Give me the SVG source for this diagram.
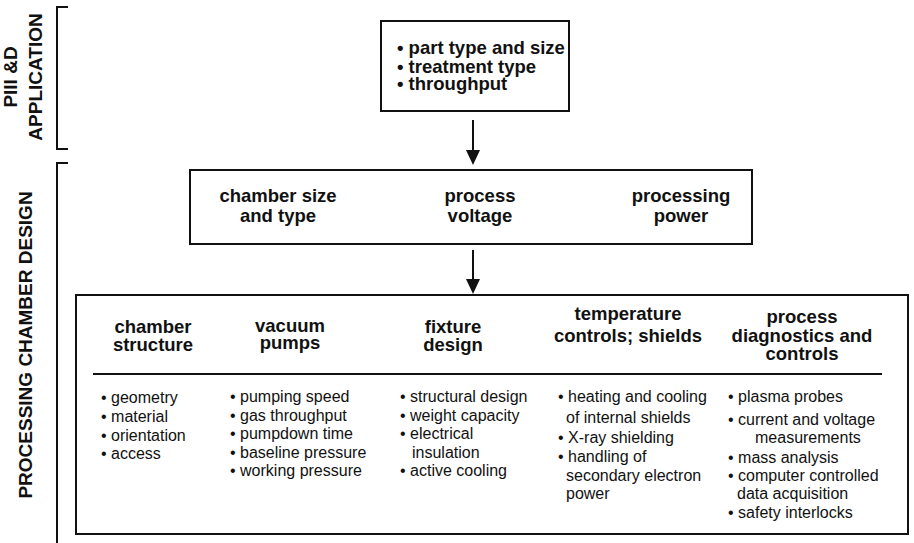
<svg xmlns="http://www.w3.org/2000/svg" width="914" height="543" viewBox="0 0 914 543">
<defs>
<style>
.box{fill:#fff;stroke:#111;stroke-width:2}
.ln{stroke:#111;stroke-width:2;fill:none}
.h{font-family:"Liberation Sans",Arial,sans-serif;font-weight:bold;font-size:18.5px;fill:#111;text-anchor:middle}
.hb{font-family:"Liberation Sans",Arial,sans-serif;font-weight:bold;font-size:18.5px;fill:#111}
.b{font-family:"Liberation Sans",Arial,sans-serif;font-size:16px;fill:#111}
.side{font-family:"Liberation Sans",Arial,sans-serif;font-weight:bold;font-size:19px;fill:#111;text-anchor:middle}
</style>
</defs>
<rect width="914" height="543" fill="#fff"/>

<g id="side-labels">
<path class="ln" d="M68,7 H57 V149 H68"/>
<path class="ln" d="M68,163 H57 V543"/>
<text class="side" transform="translate(17,77) rotate(-90)">PIII &amp;D</text>
<text class="side" transform="translate(42,77) rotate(-90)">APPLICATION</text>
<text class="side" transform="translate(32,345) rotate(-90)">PROCESSING CHAMBER DESIGN</text>
</g>

<g id="connectors">
<line class="ln" x1="473" y1="120" x2="473" y2="150"/>
<path d="M466,150 L480,150 L473,165 Z" fill="#111"/>
<line class="ln" x1="473" y1="250" x2="473" y2="279"/>
<path d="M466,279 L480,279 L473,294 Z" fill="#111"/>
</g>

<g id="application">
<rect class="box" x="381" y="21" width="188" height="90"/>
<text class="hb" x="397" y="54">• part type and size</text>
<text class="hb" x="397" y="73">• treatment type</text>
<text class="hb" x="397" y="90">• throughput</text>
</g>

<g id="chamber-params">
<rect class="box" x="190" y="170" width="562" height="74"/>
<text class="h" x="278" y="202">chamber size</text>
<text class="h" x="278" y="222">and type</text>
<text class="h" x="480" y="202">process</text>
<text class="h" x="480" y="222">voltage</text>
<text class="h" x="681" y="202">processing</text>
<text class="h" x="681" y="222">power</text>
</g>

<g id="design-details">
<rect class="box" x="76" y="295" width="832" height="239"/>
<line class="ln" x1="93" y1="374" x2="882" y2="374"/>
<text class="h" x="153" y="333">chamber</text>
<text class="h" x="153" y="351">structure</text>
<text class="h" x="290" y="332">vacuum</text>
<text class="h" x="290" y="349">pumps</text>
<text class="h" x="453" y="333">fixture</text>
<text class="h" x="453" y="351">design</text>
<text class="h" x="628" y="320">temperature</text>
<text class="h" x="628" y="342">controls; shields</text>
<text class="h" x="802" y="323">process</text>
<text class="h" x="802" y="342">diagnostics and</text>
<text class="h" x="802" y="360">controls</text>

<text class="b" x="101" y="403">• geometry</text>
<text class="b" x="101" y="422">• material</text>
<text class="b" x="101" y="441">• orientation</text>
<text class="b" x="101" y="459">• access</text>

<text class="b" x="230" y="402">• pumping speed</text>
<text class="b" x="230" y="421">• gas throughput</text>
<text class="b" x="230" y="439">• pumpdown time</text>
<text class="b" x="230" y="458">• baseline pressure</text>
<text class="b" x="230" y="476">• working pressure</text>

<text class="b" x="400" y="402">• structural design</text>
<text class="b" x="400" y="421">• weight capacity</text>
<text class="b" x="400" y="439">• electrical</text>
<text class="b" x="412" y="458">insulation</text>
<text class="b" x="400" y="476">• active cooling</text>

<text class="b" x="558" y="402">• heating and cooling</text>
<text class="b" x="566" y="423">of internal shields</text>
<text class="b" x="558" y="443">• X-ray shielding</text>
<text class="b" x="558" y="462">• handling of</text>
<text class="b" x="566" y="481">secondary electron</text>
<text class="b" x="566" y="499">power</text>

<text class="b" x="728" y="402">• plasma probes</text>
<text class="b" x="728" y="425">• current and voltage</text>
<text class="b" x="755" y="443">measurements</text>
<text class="b" x="728" y="463">• mass analysis</text>
<text class="b" x="728" y="481">• computer controlled</text>
<text class="b" x="737" y="499">data acquisition</text>
<text class="b" x="728" y="518">• safety interlocks</text>
</g>
</svg>
